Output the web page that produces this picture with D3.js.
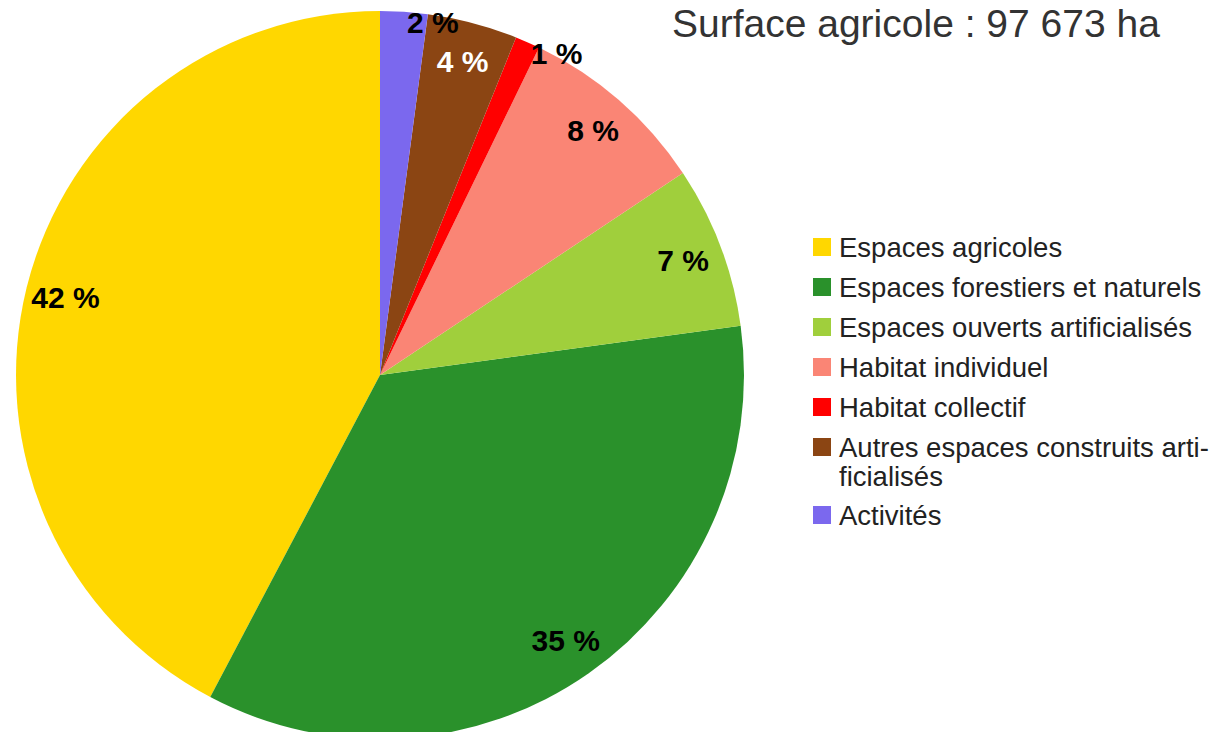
<!DOCTYPE html>
<html lang="fr">
<head>
<meta charset="utf-8">
<script src="https://cdn.jsdelivr.net/npm/d3@7"></script>
<style>
  html, body { margin: 0; padding: 0; background: #fff; }
  svg { display: block; font-family: "Liberation Sans", Arial, sans-serif; }
</style>
</head>
<body>
<svg id="chart" width="1220" height="732"></svg>
<script>
// données (ordre de la légende)
const categories = [
  "Espaces agricoles",
  "Espaces forestiers et naturels",
  "Espaces ouverts artificialisés",
  "Habitat individuel",
  "Habitat collectif",
  "Autres espaces construits artificialisés",
  "Activités",
];
const shares = [42.3, 34.9, 7.2, 8.45, 1.1, 4.0, 2.1]; // % de la surface
const legendLabels = [
  "Espaces agricoles",
  "Espaces forestiers et naturels",
  "Espaces ouverts artificialisés",
  "Habitat individuel",
  "Habitat collectif",
  "Autres espaces construits arti-\nficialisés",
  "Activités",
];
const colors = ["#ffd700", "#2a912b", "#a0cf3c", "#fa8575", "#ff0000", "#8b4513", "#7b68ee"];
const labelColors = ["#000", "#000", "#000", "#000", "#000", "#fff", "#000"];
const title = "Surface agricole : 97 673 ha";

const svg = d3.select("#chart");
const cx = 380, cy = 375, r = 364;
const labelR = 324; // rayon des étiquettes à l'intérieur

const data = categories.map((c, i) => ({ name: c, value: shares[i], i }));

// départ à midi, sens anti-horaire
const pie = d3.pie().sort(null).value((d) => d.value).startAngle(0).endAngle(-2 * Math.PI);
const arcs = pie(data);
const arc = d3.arc().innerRadius(0).outerRadius(r);
const labelArc = d3.arc().innerRadius(labelR).outerRadius(labelR);

const g = svg.append("g").attr("transform", `translate(${cx},${cy})`);

g.selectAll("path")
  .data(arcs)
  .join("path")
  .attr("d", arc)
  .attr("fill", (d) => colors[d.data.i]);

// étiquettes %
const fmt = (v) => Math.round(v) + " %";
const lab = g.append("g")
  .attr("font-size", 30)
  .attr("font-weight", "bold");

arcs.forEach((d) => {
  const txt = fmt(d.data.value);
  const t = lab.append("text").text(txt).attr("fill", labelColors[d.data.i]);
  const w = t.node().getComputedTextLength();
  const span = Math.abs(d.endAngle - d.startAngle) * labelR;
  if (span >= w) {
    // assez de place : au centre du secteur
    const [x, y] = labelArc.centroid(d);
    t.attr("x", x).attr("y", y).attr("dy", "0.35em").attr("text-anchor", "middle");
  } else {
    // trop étroit : posé sur le bord du cercle
    const a = (d.startAngle + d.endAngle) / 2;
    const x = Math.sin(a) * r, y = -Math.cos(a) * r;
    t.attr("x", x + 3).attr("y", y).attr("dy", "0.72em").attr("text-anchor", "start");
  }
});

// titre
svg.append("text")
  .attr("x", 672)
  .attr("y", 37)
  .attr("font-size", 39)
  .attr("fill", "#333")
  .text(title);

// légende
const legend = svg.append("g").attr("transform", "translate(813,238)");
let ly = 0;
legendLabels.forEach((label, i) => {
  const lines = label.split("\n");
  const item = legend.append("g").attr("transform", `translate(0,${ly})`);
  item.append("rect")
    .attr("width", 18)
    .attr("height", 18)
    .attr("fill", colors[i]);
  item.append("text")
    .attr("x", 26)
    .attr("y", 19)
    .attr("font-size", 27.5)
    .attr("fill", "#222")
    .selectAll("tspan")
    .data(lines)
    .join("tspan")
    .attr("x", 26)
    .attr("dy", (d, k) => (k === 0 ? 0 : 29))
    .text((d) => d);
  ly += 40 + (lines.length - 1) * 28;
});
</script>
</body>
</html>
